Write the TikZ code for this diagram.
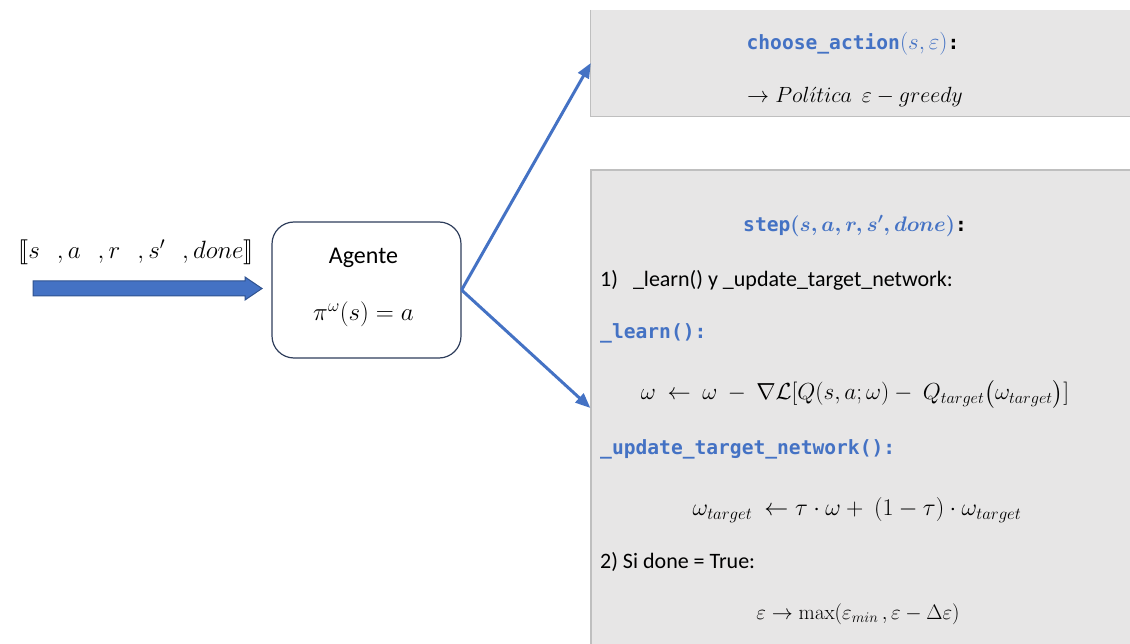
\RequirePackage{fix-cm}
\documentclass[tikz,border=0pt]{standalone}
\usepackage{amsmath}
\usepackage{amssymb}
\usepackage{stmaryrd}
\usepackage[no-math]{fontspec}
\setmainfont{Carlito}
\setmonofont{DejaVu Sans Mono}
\usetikzlibrary{positioning, arrows.meta}
\definecolor{officeblue}{HTML}{4472C4}
\definecolor{arrowedge}{HTML}{2F528F}
\definecolor{panelgray}{HTML}{E7E6E6}
\definecolor{panelline}{HTML}{BFBFBF}
\definecolor{agentline}{HTML}{2F3E5C}
\newcommand{\boxfont}{\fontsize{22}{26}\selectfont}
\newcommand{\agentfont}{\fontsize{24}{28}\selectfont}
\newcommand{\mathsized}[1]{\fontsize{#1}{#1}\selectfont}
\newcommand{\code}[1]{{\color{officeblue}\fontsize{19.6}{24}\ttfamily\bfseries #1}}

\begin{document}
\begin{tikzpicture}[x=1pt, y=-1pt,
    panel/.style={fill=panelgray, inner sep=0pt},
    agentbox/.style={draw=agentline, line width=1.2pt, rounded corners=22pt, fill=white,
      minimum width=189pt, minimum height=136pt},
    link/.style={officeblue, line width=3pt, -{Triangle[length=15pt,width=12pt]}},
    txt/.style={font=\boxfont, inner sep=0pt},
    formula/.style={font=\mathsized{#1}, inner sep=0pt},
    formula/.default=25]
  \useasboundingbox (0,0) rectangle (1130,644);
  \node[panel, minimum width=544pt, minimum height=106pt] (choose) at (863,63) {};
  \draw[panelline, line width=1.2pt] (choose.north west) -- (choose.south west) -- (choose.south east);
  \node[panel, draw=panelline, line width=1.2pt, minimum width=544pt, minimum height=476pt] (step) at (863,408) {};

  \node[agentbox] (agent) at (366.5,290) {};
  \node[font=\agentfont] (agtitle) at (363.5,258) {Agente};
  \node[formula] (policy) at (363.5,314) {$\pi^{\omega}(s) = a$};

  \node[formula] (tuple) at (136,252) {$\llbracket s\hspace{17pt},a\hspace{17pt},r\hspace{17pt},s'\hspace{17pt},done\rrbracket$};
  \draw[fill=officeblue, draw=arrowedge, line width=1pt] (33,281) -- (245,281) -- (245,277)
    -- (262,288.5) -- (245,300) -- (245,296) -- (33,296) -- cycle;

  \draw[link] (agent.east) -- (choose.west);
  \draw[link] (agent.east) -- (step.west);

  \node[txt] (chooselbl) at (853,44) {\code{choose\_action}{\color{officeblue}\mathsized{23}$(s,\varepsilon)$}\code{\color{black}:}};
  \node[formula=22] (policylbl) at (855,97) {$\rightarrow Pol\acute{\imath}tica\ \ \varepsilon - greedy$};
  \node[txt] (steplbl) at (855,226) {\code{step}{\color{officeblue}\mathsized{21}$\boldsymbol{(s,a,r,s',done)}$}\code{\color{black}:}};
  \node[txt, anchor=west] (item1) at (600,280) {1)\hspace{15pt}\_learn() y \_update\_target\_network:};
  \node[txt, anchor=west] (learnlbl) at (600,333) {\code{\_learn():}};
  \node[formula=23.2] (learnrule) at (855,394) {$\omega\ \leftarrow\ \omega\ -\ \nabla\mathcal{L}[Q(s,a;\omega) -\ Q_{target}\big(\omega_{target}\big)]$};
  \node[txt, anchor=west] (updatelbl) at (600,449) {\code{\_update\_target\_network():}};
  \node[formula=24] (updaterule) at (857,510) {$\omega_{target}\ \leftarrow \tau\cdot\omega +\ (1-\tau)\cdot\omega_{target}$};
  \node[txt, anchor=west] (item2) at (600,562) {2) Si done = True:};
  \node[formula=21] (epsrule) at (858,614) {$\varepsilon \rightarrow \max(\varepsilon_{min}\,,\varepsilon - \Delta\varepsilon)$};
\end{tikzpicture}
\end{document}
